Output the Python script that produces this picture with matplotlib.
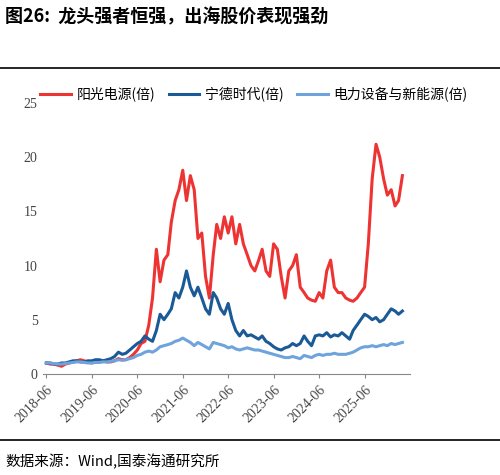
import numpy as np
import pandas as pd
import matplotlib
matplotlib.use("Agg")
import matplotlib.pyplot as plt

plt.rcParams['font.family'] = ['Noto Sans CJK SC', 'DejaVu Sans']

# monthly values from 2018-06, each row = 12 months starting June
sungrow = [
    1.0, 0.9, 0.9, 0.8, 0.7, 0.9, 1.0, 1.1, 1.2, 1.3, 1.2, 1.1,
    1.0, 1.1, 1.1, 1.2, 1.1, 1.1, 1.2, 1.4, 1.3, 1.3, 1.5, 1.8,
    2.2, 2.8, 3.0, 4.5, 7.0, 11.5, 8.5, 10.5, 11.0, 14.0, 16.0, 17.0,
    18.8, 16.0, 18.3, 17.0, 12.5, 13.0, 9.0, 7.0, 11.0, 13.8, 12.5, 14.5,
    13.0, 14.5, 12.0, 13.8, 12.0, 11.0, 10.0, 9.5, 10.5, 11.5, 9.5, 9.0,
    12.0, 11.5, 9.0, 7.0, 9.5, 10.0, 11.0, 8.0, 7.5, 7.0, 6.8, 6.7,
    7.5, 7.0, 9.5, 10.5, 8.0, 7.5, 7.5, 7.0, 6.8, 6.7, 7.0, 7.5,
    8.0, 12.0, 18.0, 21.2, 20.0, 18.0, 16.5, 17.0, 15.5, 16.0, 18.3,
]
catl = [
    1.0, 1.0, 0.9, 0.9, 1.0, 1.0, 1.1, 1.2, 1.2, 1.1, 1.1, 1.2,
    1.2, 1.3, 1.3, 1.2, 1.3, 1.4, 1.6, 2.0, 1.8, 1.9, 2.2, 2.5,
    2.8, 3.0, 3.5, 3.2, 3.0, 4.0, 5.5, 5.0, 5.5, 6.0, 7.5, 7.0,
    8.0, 9.5, 8.0, 7.2, 8.0, 7.0, 6.0, 5.5, 7.5, 7.0, 6.0, 5.5,
    6.5, 5.0, 4.0, 3.5, 4.0, 3.5, 3.6, 3.4, 3.2, 3.5, 3.0, 2.8,
    2.5, 2.3, 2.2, 2.4, 2.5, 2.8, 2.6, 2.8, 3.5, 3.0, 2.6, 3.5,
    3.6, 3.5, 3.8, 3.4, 3.6, 3.5, 3.8, 3.5, 3.2, 4.0, 4.5, 5.0,
    5.5, 5.3, 5.0, 5.2, 4.8, 5.0, 5.5, 6.0, 5.8, 5.5, 5.8,
]
sector = [
    1.0, 1.0, 0.95, 0.9, 0.9, 0.95, 1.0, 1.05, 1.1, 1.1, 1.05, 1.0,
    1.0, 1.05, 1.05, 1.1, 1.1, 1.15, 1.2, 1.3, 1.25, 1.3, 1.4, 1.5,
    1.7, 1.8, 2.0, 2.1, 2.0, 2.2, 2.5, 2.6, 2.7, 2.8, 3.0, 3.1,
    3.3, 3.1, 2.9, 2.6, 2.9, 2.7, 2.5, 2.3, 2.9, 2.8, 2.7, 2.6,
    2.4, 2.5, 2.3, 2.2, 2.3, 2.4, 2.3, 2.2, 2.2, 2.1, 2.0, 1.9,
    1.8, 1.7, 1.6, 1.5, 1.5, 1.6, 1.5, 1.4, 1.7, 1.6, 1.5, 1.7,
    1.8, 1.7, 1.8, 1.8, 1.9, 1.8, 1.8, 1.8, 1.9, 2.0, 2.2, 2.4,
    2.5, 2.5, 2.6, 2.5, 2.6, 2.7, 2.6, 2.8, 2.7, 2.8, 2.9,
]
dates = pd.date_range("2018-06-01", periods=len(sungrow), freq="MS")
tick_labels = [f"{y}-06" for y in range(2018, 2026)]
tick_dates = pd.to_datetime([f"{y}-06-01" for y in range(2018, 2026)])

fig = plt.figure(figsize=(5, 4.75), dpi=100)
ax = fig.add_axes([0.085, 0.213, 0.735, 0.57])

ax.plot(dates, sungrow, color='#ee3333', lw=2.2, label='阳光电源(倍)')
ax.plot(dates, catl, color='#1a5a96', lw=2.2, label='宁德时代(倍)')
ax.plot(dates, sector, color='#6fa3dc', lw=2.2, label='电力设备与新能源(倍)')

ax.set_ylim(0, 25)
ax.set_yticks([0, 5, 10, 15, 20, 25])
ax.set_xlim(pd.Timestamp("2018-05-01"), pd.Timestamp("2026-06-01"))
ax.set_xticks(tick_dates)
ax.set_xticklabels(tick_labels, rotation=45, ha='right', rotation_mode='anchor')
for lab in ax.get_xticklabels() + ax.get_yticklabels():
    lab.set_fontfamily(['Liberation Serif'])
    lab.set_fontsize(10)
    lab.set_color('#444444')
ax.spines['top'].set_visible(False)
ax.spines['right'].set_visible(False)
ax.spines['left'].set_visible(False)
ax.tick_params(axis='y', length=0)
ax.tick_params(axis='x', length=3, color='#888888')
ax.spines['bottom'].set_color('#888888')

ax.legend(loc='lower left', bbox_to_anchor=(-0.01, 1.0), ncol=3, frameon=False,
          fontsize=10, handlelength=2.2, columnspacing=1.0, handletextpad=0.4,
          borderaxespad=0, borderpad=0.1)

fig.text(0.01, 0.965, '图26:  龙头强者恒强，出海股价表现强劲', fontsize=13,
         fontweight='bold', va='center')
fig.add_artist(plt.Line2D([0, 1], [0.857, 0.857], color='black', lw=1.2))
fig.add_artist(plt.Line2D([0, 1], [0.074, 0.074], color='black', lw=1.2))
fig.text(0.01, 0.028, '数据来源：Wind,国泰海通研究所', fontsize=10.5, va='center')

fig.savefig('out.png', dpi=100)
